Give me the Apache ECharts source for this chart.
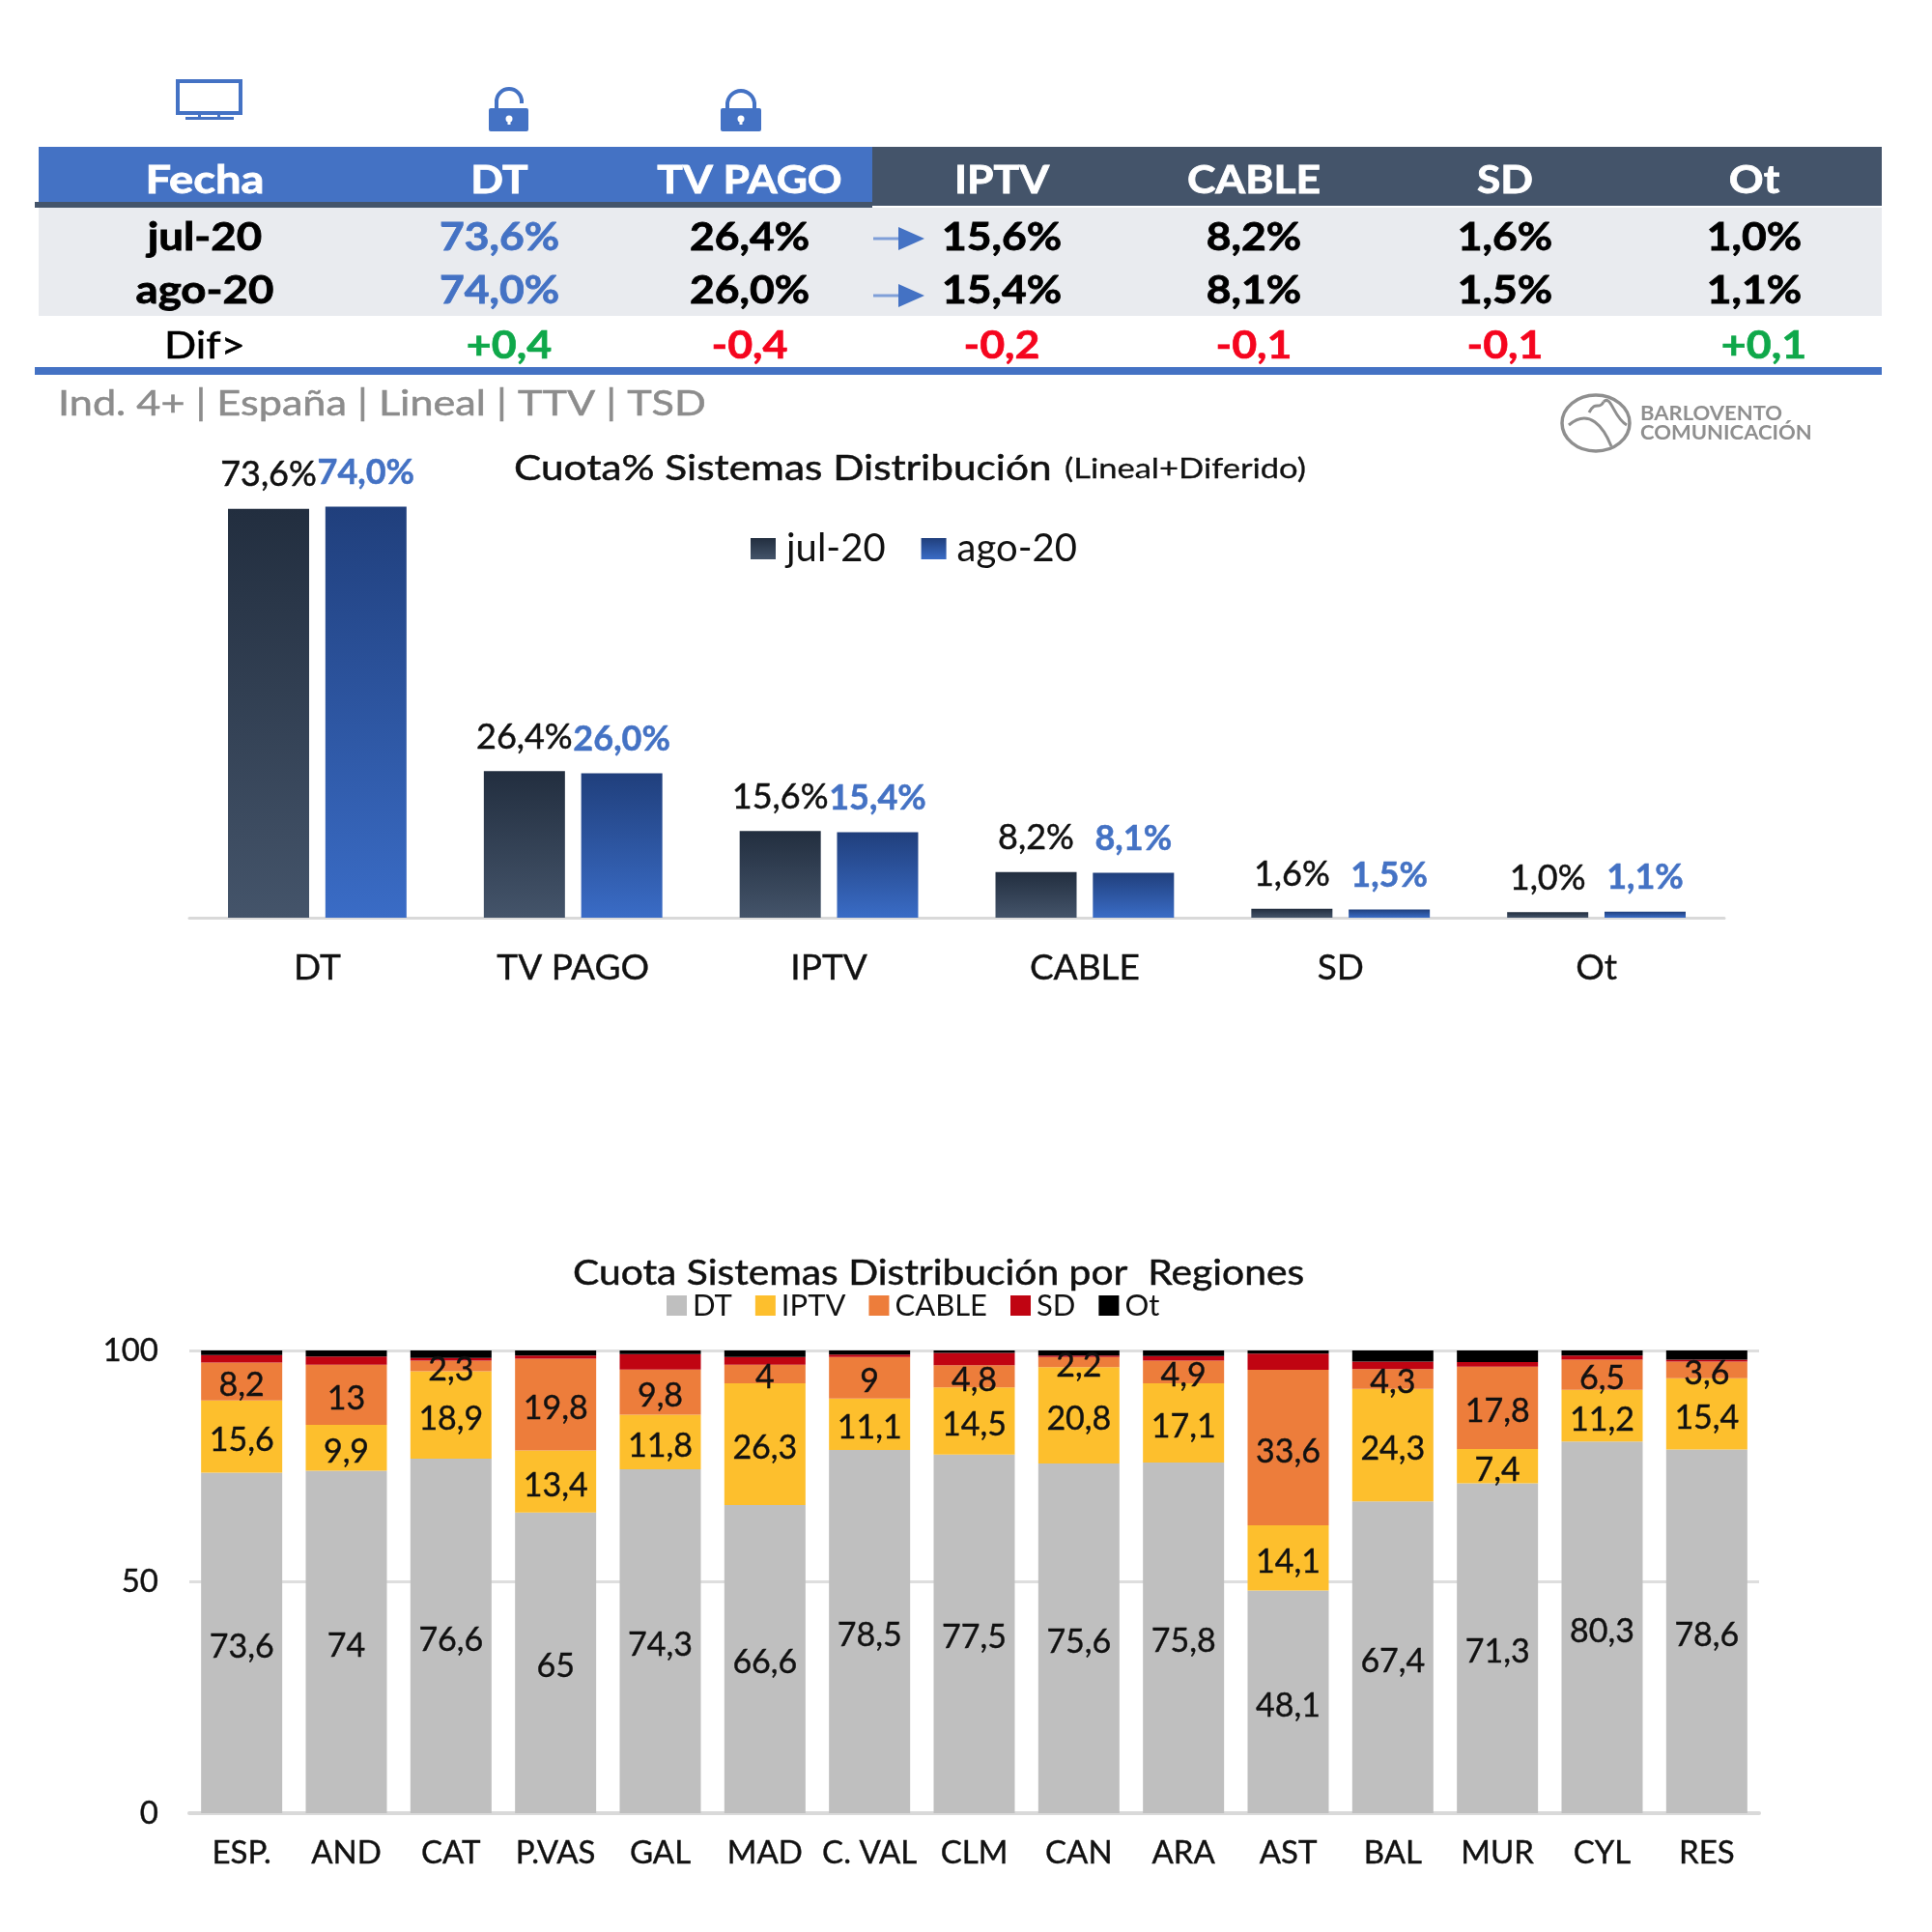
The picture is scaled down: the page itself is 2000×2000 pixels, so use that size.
<!DOCTYPE html>
<html><head><meta charset="utf-8">
<script src="https://cdn.jsdelivr.net/npm/echarts@6/dist/echarts.min.js"></script>
<style>html,body{margin:0;padding:0;background:#fff}#c{width:2000px;height:2000px}</style></head>
<body><div id="c"></div>
<script>
// ---- data ----
const tableHeaders = ['Fecha','DT','TV PAGO','IPTV','CABLE','SD','Ot'];
const tableRowJul = ['jul-20','73,6%','26,4%','15,6%','8,2%','1,6%','1,0%'];
const tableRowAgo = ['ago-20','74,0%','26,0%','15,4%','8,1%','1,5%','1,1%'];
const tableRowDif = ['Dif>','+0,4','-0,4','-0,2','-0,1','-0,1','+0,1'];
const sysCategories = ['DT','TV PAGO','IPTV','CABLE','SD','Ot'];
const julValues = [73.6,26.4,15.6,8.2,1.6,1.0];
const agoValues = [74.0,26.0,15.4,8.1,1.5,1.1];
const regions = ['ESP.','AND','CAT','P.VAS','GAL','MAD','C. VAL','CLM','CAN','ARA','AST','BAL','MUR','CYL','RES'];
const regDT    = [73.6,74,76.6,65,74.3,66.6,78.5,77.5,75.6,75.8,48.1,67.4,71.3,80.3,78.6];
const regIPTV  = [15.6,9.9,18.9,13.4,11.8,26.3,11.1,14.5,20.8,17.1,14.1,24.3,7.4,11.2,15.4];
const regCABLE = [8.2,13,2.3,19.8,9.8,4,9,4.8,2.2,4.9,33.6,4.3,17.8,6.5,3.6];
const regSD    = [1.6,1.8,0.6,0.7,3.3,1.7,0.5,2.7,0.3,1.0,3.5,1.6,1.0,0.9,0.4];
const regOt    = [1.0,1.3,1.6,1.1,0.8,1.4,0.9,0.5,1.1,1.2,0.7,2.4,2.5,1.1,2.0];

// ---- style ----
const F = 'Lato, "Open Sans", sans-serif';
const BLUE = '#4472c4', SLATE = '#44546a', INK = '#111';
const comma = v => String(v).replace('.', ',');
const pct = v => v.toFixed(1).replace('.', ',') + '%';
const grad = (a, b) => new echarts.graphic.LinearGradient(0, 0, 0, 1, [{offset:0,color:a},{offset:1,color:b}]);

// ---- table & decorations (graphic layer) ----
const colX = [212,517,776,1037,1298,1558,1816];
const g = [];
const rect = (x,y,w,h,fill,r) => g.push({type:'rect',silent:true,shape:{x,y,width:w,height:h,r:r||0},style:{fill}});
const txt = (x,y,t,size,fill,weight,align,sx,sw) => g.push({type:'text',silent:true,x,y,scaleX:sx||1,style:{text:t,fill,stroke:sw?fill:null,lineWidth:sw||0,font:`${weight||'normal'} ${size}px ${F}`,textAlign:align||'center',textVerticalAlign:'middle'}});
rect(40,152,1908,61,SLATE);
rect(40,152,863,57,BLUE);
rect(36,209,867,6,SLATE);
rect(40,215,1908,112,'#e9ebef');
rect(36,380,1912,8,BLUE);
const S = 1.11;
tableHeaders.forEach((t,i)=>txt(colX[i],187,t,40,'#fff','bold','center',i===0?1.18:S,0.8));
tableRowJul.forEach((t,i)=>txt(colX[i],246,t,40,i===1?BLUE:'#000','bold','center',i===0?1.14:S,0.8));
tableRowAgo.forEach((t,i)=>txt(colX[i],301,t,40,i===1?BLUE:'#000','bold','center',i===0?1.14:S,0.8));
tableRowDif.forEach((t,i)=>{
  const pos = t[0]==='+';
  txt(colX[i]+(pos?10:0),358,t,i?40:39,i===0?'#000':(pos?'#0fa84a':'#f5051e'),i?'bold':'normal','center',i?1.12:1.12,0.6);
});
[247,306].forEach(y=>{
  rect(904,y-1.5,26,3,'#7f9fd8');
  g.push({type:'polygon',silent:true,shape:{points:[[930,y-12],[957,y],[930,y+12]]},style:{fill:BLUE}});
});
txt(60,418,'Ind. 4+ | España | Lineal | TTV | TSD',36,'#8c8c8c','normal','left',1.2,0.5);
// chart titles
txt(532,485,'Cuota% Sistemas Distribución',36,INK,'normal','left',1.177,0.5);
txt(1102,486,'(Lineal+Diferido)',29,INK,'normal','left',1.19,0.3);
txt(593,1318,'Cuota Sistemas Distribución por  Regiones',36,INK,'normal','left',1.133,0.5);
// monitor icon
g.push({type:'rect',silent:true,shape:{x:184,y:84,width:65,height:33},style:{fill:'none',stroke:BLUE,lineWidth:4}});
rect(205,116,3,6,BLUE); rect(225,116,3,6,BLUE); rect(192,121,50,3,BLUE);
// locks
rect(506,112,41,24,BLUE,2);
g.push({type:'arc',silent:true,shape:{cx:527,cy:105,r:13,startAngle:Math.PI,endAngle:0,clockwise:true},style:{fill:'none',stroke:BLUE,lineWidth:4}});
rect(512,103,4,9,BLUE); rect(538,103,4,4,BLUE);
rect(746,112,42,24,BLUE,2);
g.push({type:'arc',silent:true,shape:{cx:767,cy:108,r:14,startAngle:Math.PI,endAngle:0,clockwise:true},style:{fill:'none',stroke:BLUE,lineWidth:4}});
rect(751,106,4,7,BLUE); rect(779,106,4,7,BLUE);
[527,767].forEach(x=>{
  g.push({type:'circle',silent:true,shape:{cx:x,cy:123,r:3.5},style:{fill:'#fff'}});
  rect(x-1.5,123,3,6,'#fff');
});
// logo
const LOGO = '#8f8f8f';
g.push({type:'ellipse',silent:true,shape:{cx:1652,cy:438,rx:35,ry:29},style:{fill:'none',stroke:LOGO,lineWidth:3.5}});
g.push({type:'bezierCurve',silent:true,shape:{x1:1624,y1:440,x2:1668,y2:462,cpx1:1645,cpy1:422,cpx2:1660,cpy2:442},style:{fill:'none',stroke:LOGO,lineWidth:3}});
g.push({type:'bezierCurve',silent:true,shape:{x1:1645,y1:427,x2:1660,y2:416,cpx1:1652,cpy1:414,cpx2:1655,cpy2:425},style:{fill:'none',stroke:LOGO,lineWidth:3}});
g.push({type:'bezierCurve',silent:true,shape:{x1:1660,y1:416,x2:1684,y2:440,cpx1:1668,cpy1:408,cpx2:1670,cpy2:432},style:{fill:'none',stroke:LOGO,lineWidth:3}});
txt(1698,429,'BARLOVENTO',20,LOGO,'bold','left',1.1);
txt(1698,449,'COMUNICACIÓN',20,LOGO,'bold','left',1.1);

const lab1 = (color, weight) => ({show:true,position:'top',distance:17,color,fontFamily:F,fontSize:36,fontWeight:weight,textBorderColor:color,textBorderWidth:0.5,formatter:p=>pct(p.value)});
const seg = () => ({show:true,position:'inside',offset:[0,4],color:INK,fontFamily:F,fontSize:34,textBorderColor:INK,textBorderWidth:0.4,formatter:p=>comma(p.value)});
const stackSeries = (name,data,color,label) => ({name,type:'bar',stack:'r',xAxisIndex:1,yAxisIndex:1,barWidth:84,data,itemStyle:{color},label:label?seg():{show:false},z:3});

const chart = echarts.init(document.getElementById('c'),null,{width:2000,height:2000});
chart.setOption({
  animation:false,
  backgroundColor:'#fff',
  textStyle:{fontFamily:F},
  legend:[
    {left:772,top:543,itemWidth:26,itemHeight:22,itemGap:37,icon:'rect',data:['jul-20','ago-20'],textStyle:{fontFamily:F,fontSize:40,color:INK,padding:[0,0,0,6]}},
    {left:685,top:1331,itemWidth:21,itemHeight:21,itemGap:24,icon:'rect',data:['DT','IPTV','CABLE','SD','Ot'],textStyle:{fontFamily:F,fontSize:31,color:INK,padding:[0,0,0,1]}}
  ],
  grid:[
    {left:196,width:1589,top:490,height:460},
    {left:196,width:1625,top:1398,height:479}
  ],
  xAxis:[
    {type:'category',gridIndex:0,data:sysCategories,axisLine:{lineStyle:{color:'#d9d9d9',width:3}},axisTick:{show:false},axisLabel:{color:INK,fontFamily:F,fontSize:37,margin:34,textBorderColor:INK,textBorderWidth:0.4}},
    {type:'category',gridIndex:1,data:regions,axisLine:{lineStyle:{color:'#d9d9d9',width:4}},axisTick:{show:false},axisLabel:{color:INK,fontFamily:F,fontSize:33,margin:25,interval:0,textBorderColor:INK,textBorderWidth:0.4}}
  ],
  yAxis:[
    {type:'value',gridIndex:0,min:0,max:80,show:false},
    {type:'value',gridIndex:1,min:0,max:100,interval:50,axisLine:{show:false},axisTick:{show:false},axisLabel:{color:INK,fontFamily:F,fontSize:33,margin:32,padding:[6,0,0,0],textBorderColor:INK,textBorderWidth:0.4},splitLine:{lineStyle:{color:'#dedede',width:3}}}
  ],
  series:[
    {name:'jul-20',type:'bar',barWidth:84,barGap:'20%',data:julValues,itemStyle:{color:grad('#222e3f',SLATE)},label:lab1(INK,'normal')},
    {name:'ago-20',type:'bar',barWidth:84,data:agoValues,itemStyle:{color:grad('#203f7c','#3a6cc6')},label:lab1(BLUE,'bold')},
    stackSeries('DT',regDT,'#bfbfbf',true),
    stackSeries('IPTV',regIPTV,'#fdbf2d',true),
    stackSeries('CABLE',regCABLE,'#ed7d3b',true),
    stackSeries('SD',regSD,'#c00412',false),
    stackSeries('Ot',regOt,'#000000',false)
  ],
  graphic:g
});
</script></body></html>
